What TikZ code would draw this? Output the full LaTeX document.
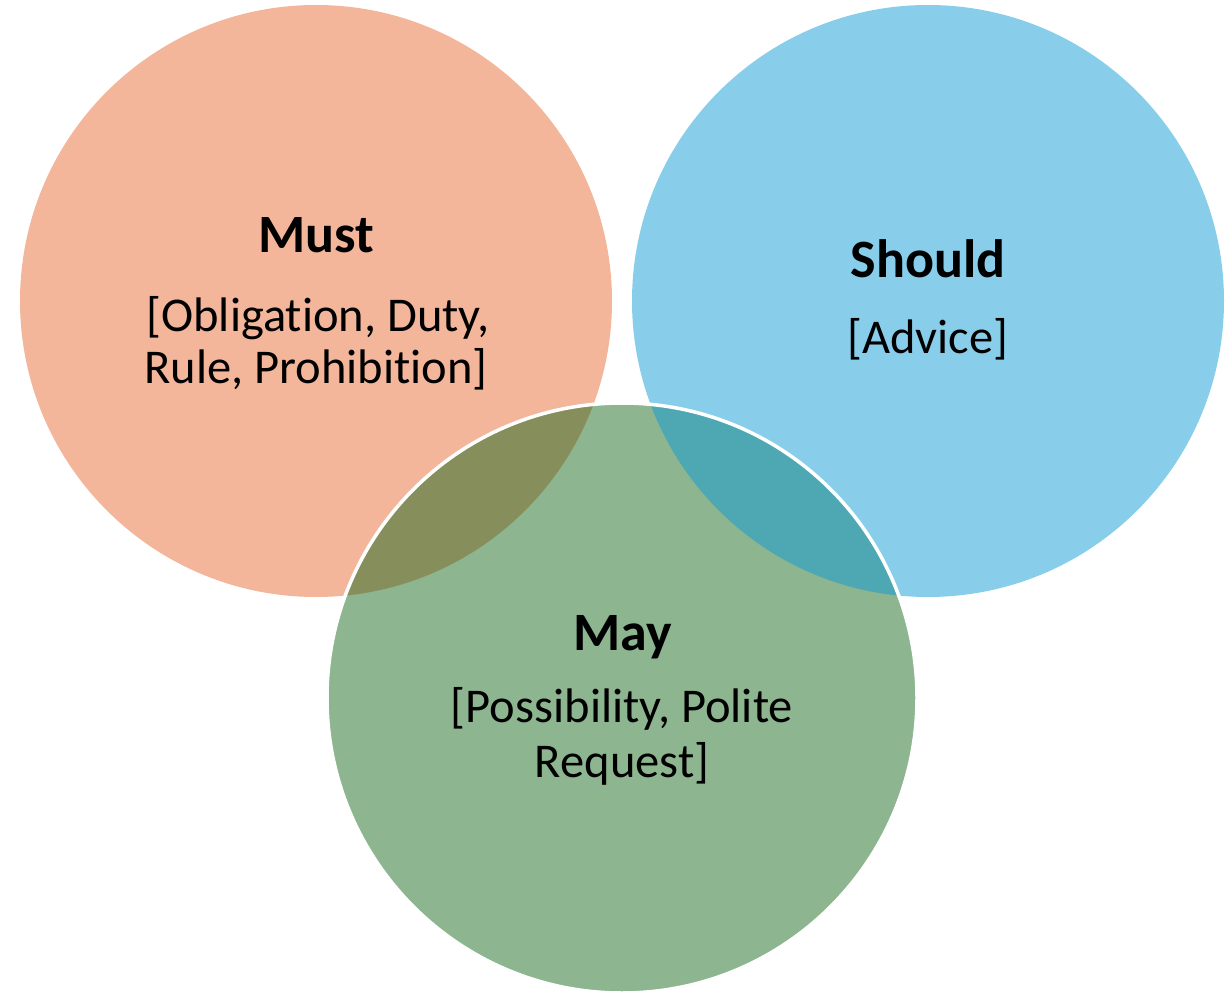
\documentclass[tikz,border=0pt]{standalone}
\usepackage{fontspec}
\setmainfont[Ligatures=NoCommon]{Carlito}
\definecolor{mustc}{HTML}{F4B69A}
\definecolor{shouldc}{HTML}{88CEEA}
\definecolor{mayc}{HTML}{8CB590}
\definecolor{olivec}{HTML}{868F5C}
\definecolor{tealc}{HTML}{4DA8B4}
\tikzset{
  title/.style={anchor=base, font=\fontsize{54}{64}\selectfont\bfseries, inner sep=0pt},
  body/.style={anchor=base, font=\fontsize{48.5}{58}\selectfont, inner sep=0pt}
}
\begin{document}
\begin{tikzpicture}[x=1pt,y=-1pt]
\useasboundingbox (0,0) rectangle (1232,992);
\fill[mustc] (316,301) circle (296);
\fill[shouldc] (928,301) circle (296);
\fill[mayc] (622,698) circle (295);
\begin{scope}
  \clip (622,698) circle (295);
  \fill[olivec] (316,301) circle (296);
  \fill[tealc] (928,301) circle (296);
\end{scope}
\draw[white, line width=3.5pt] (622,698) circle (295);
\node[title] (must) at (316,253) {Must};
\node[body] (must1) at (318,332) {[Obligation, Duty,};
\node[body] (must2) at (316,383) {Rule, Prohibition]};
\node[title] (should) at (928,278) {Should};
\node[body] (should1) at (928,354) {[Advice]};
\node[title] (may) at (623,650) {May};
\node[body] (may1) at (622,722) {[Possibility, Polite};
\node[body] (may2) at (622,777) {Request]};
\end{tikzpicture}
\end{document}
